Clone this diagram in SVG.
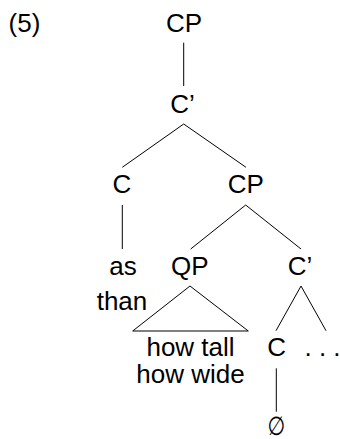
<svg xmlns="http://www.w3.org/2000/svg" width="340" height="439" viewBox="0 0 340 439">
  <style>
    text { font-family: "Liberation Sans", "DejaVu Sans", sans-serif; font-size: 26px; fill: #000; text-anchor: middle; }
    .edge { stroke: #000; stroke-width: 1; fill: none; }
  </style>
  <rect width="340" height="439" fill="#fff"/>

  <text id="label" x="24.5" y="32">(5)</text>

  <!-- tree branches -->
  <g id="connectors">
    <line class="edge" x1="183.7" y1="42.7" x2="183.7" y2="86"/>
    <line class="edge" x1="183.7" y1="124" x2="122.3" y2="167.3"/>
    <line class="edge" x1="183.7" y1="124" x2="246" y2="167.3"/>
    <line class="edge" x1="122.3" y1="205" x2="122.3" y2="249"/>
    <line class="edge" x1="245.7" y1="205" x2="190.7" y2="249"/>
    <line class="edge" x1="245.7" y1="205" x2="301" y2="249"/>
    <polygon class="edge" points="190,286 132.7,331 248.3,331"/>
    <line class="edge" x1="301" y1="286" x2="276" y2="330.7"/>
    <line class="edge" x1="301" y1="286" x2="326" y2="330.7"/>
    <line class="edge" x1="276.3" y1="368.3" x2="276.3" y2="411.7"/>
  </g>

  <g id="cp-root"><text x="184" y="32">CP</text></g>
  <g id="cbar-top"><text x="182.5" y="113">C’</text></g>
  <g id="c-head"><text x="122" y="193">C</text></g>
  <g id="cp-inner"><text x="245.7" y="193">CP</text></g>
  <g id="c-words">
    <text x="123" y="275">as</text>
    <text x="122" y="310">than</text>
  </g>
  <g id="qp"><text x="189.7" y="275">QP</text></g>
  <g id="cbar-inner"><text x="300" y="275">C’</text></g>
  <g id="qp-words">
    <text x="190.5" y="355.7">how tall</text>
    <text x="190.5" y="382.7">how wide</text>
  </g>
  <g id="c-null-head"><text x="276.7" y="355.7">C</text></g>
  <g id="rest"><text x="322.5" y="355.7">. . .</text></g>
  <!-- empty complementizer, narrowed slashed oval -->
  <g id="null"><text transform="translate(276.3 435) scale(0.78 1)" x="0" y="0">∅</text></g>
</svg>
